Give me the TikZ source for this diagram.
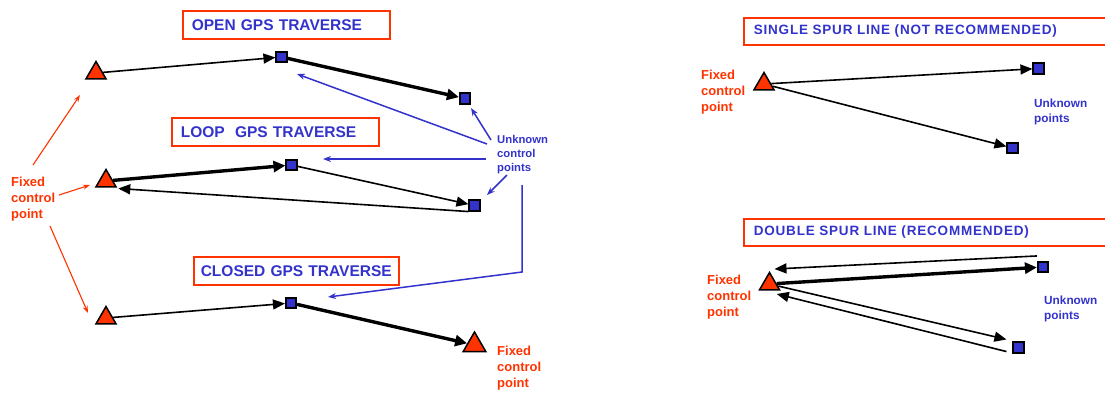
\documentclass[tikz,border=0pt]{standalone}
\usepackage{fontspec}
\setmainfont{Liberation Sans}
\usetikzlibrary{shapes.geometric,arrows.meta}

\definecolor{gpsred}{RGB}{255,51,0}
\definecolor{gpsblue}{RGB}{51,51,204}

\tikzset{
  fixpt/.style={regular polygon, regular polygon sides=3, fill=gpsred, draw=black,
    line width=1.5pt, minimum size=23pt, inner sep=0pt},
  newpt/.style={rectangle, fill=gpsblue, draw=black, line width=1.6pt,
    minimum size=10.5pt, inner sep=0pt},
  titlebox/.style={draw=gpsred, line width=1.6pt, text=gpsblue,
    font=\fontsize{15.5}{18}\selectfont\bfseries, anchor=north west, align=left,
    inner xsep=9pt, inner ysep=0pt, minimum height=28pt},
  spurbox/.style={titlebox, font=\fontsize{13.5}{16}\selectfont\bfseries\addfontfeatures{LetterSpace=6},
    inner xsep=10pt, minimum height=27pt, text width=360pt},
  leg/.style={line width=1.6pt, -{Triangle[length=12pt,width=10pt]}},
  legthick/.style={line width=3.4pt, -{Triangle[length=12pt,width=11pt]}},
  bluearr/.style={draw=gpsblue, line width=1.5pt, -{Stealth[length=8pt,width=6pt]}},
  redarr/.style={draw=gpsred, line width=1.1pt, -{Stealth[length=7pt,width=5pt]}},
  redlbl/.style={text=gpsred, font=\fontsize{13}{16}\selectfont\bfseries, align=left,
    anchor=north west, inner sep=0pt},
  bluelbl/.style={text=gpsblue, font=\fontsize{11.3}{14}\selectfont\bfseries, align=left,
    anchor=north west, inner sep=0pt},
}

\begin{document}
\begin{tikzpicture}[x=1pt,y=-1pt]
  \useasboundingbox (0,0) rectangle (1105,392);

  % open traverse
  \node[titlebox, text width=189pt] (opent) at (182,10) {OPEN GPS TRAVERSE};
  \node[fixpt] (oa) at (96,73) {};
  \node[newpt] (ob) at (281.5,57) {};
  \node[newpt] (oc) at (465,98.5) {};
  \draw[leg] (oa) -- (ob);
  \draw[legthick] (ob) -- (oc);

  % loop traverse
  \node[titlebox, text width=189pt] (loopt) at (171,117) {LOOP\ \ GPS TRAVERSE};
  \node[fixpt] (la) at (106,181) {};
  \node[newpt] (lb) at (291.5,165) {};
  \node[newpt] (lc) at (474.5,205.5) {};
  \draw[legthick] (la) -- (lb);
  \draw[leg] (lb) -- (lc);
  \draw[leg] (lc.south west) -- ([shift={(1,1)}]la.corner 3);

  % closed traverse
  \node[titlebox, inner xsep=7pt, text width=191pt] (closedt) at (193,256) {CLOSED GPS TRAVERSE};
  \node[fixpt] (ca) at (106,318) {};
  \node[newpt] (cb) at (291,303) {};
  \node[fixpt, minimum size=26pt] (cc) at (474.5,345) {};
  \draw[leg] (ca) -- (cb);
  \draw[legthick] (cb) -- (cc);

  % labels, left part
  \node[redlbl] (fixl) at (11,177) {Fixed\\control\\point};
  \node[redlbl] (fixc) at (497,346) {Fixed\\control\\point};
  \node[bluelbl] (unk) at (497,135) {Unknown\\control\\points};

  \draw[redarr] ([shift={(22,-12)}]fixl.north west) -- ([shift={(-16,22)}]oa.center);
  \draw[redarr] ([shift={(48,18)}]fixl.north west) -- ([shift={(-16,4)}]la.center);
  \draw[redarr] ([shift={(39,49)}]fixl.north west) -- ([shift={(-18,-5)}]ca.center);

  \draw[bluearr] ([shift={(-10,9)}]unk.north west) -- ([shift={(15.5,17)}]ob.center);
  \draw[bluearr] ([shift={(-6,5)}]unk.north west) -- ([shift={(6,9.5)}]oc.center);
  \draw[bluearr] ([shift={(-11,24)}]unk.north west) -- ([shift={(31.5,-6)}]lb.center);
  \draw[bluearr] ([shift={(10,40)}]unk.north west) -- ([shift={(12.5,-10.5)}]lc.center);
  \draw[bluearr] ([shift={(25,50)}]unk.north west) -- ++(0,87) -- ([shift={(37,-6)}]cb.center);

  % single spur line
  \node[spurbox] (singlet) at (743,17) {SINGLE SPUR LINE (NOT RECOMMENDED)};
  \node[fixpt] (sa) at (764,84) {};
  \node[newpt] (sb) at (1038.5,68.5) {};
  \node[newpt] (sc) at (1012.5,148) {};
  \draw[leg] (sa) -- (sb);
  \draw[leg] (sa) -- (sc);
  \node[redlbl] (fixs) at (701,70) {Fixed\\control\\point};
  \node[bluelbl, font=\fontsize{11.8}{15}\selectfont\bfseries] (unks) at (1034,99) {Unknown\\points};

  % double spur line
  \node[spurbox] (doublet) at (743,218) {DOUBLE SPUR LINE (RECOMMENDED)};
  \node[fixpt] (da) at (769.5,284) {};
  \node[newpt] (db) at (1043,267) {};
  \node[newpt] (dc) at (1018.5,347.5) {};
  \draw[legthick] (da) -- (db);
  \draw[leg] ([shift={(0,-5)}]db.north west) -- ([shift={(5,-2)}]da.corner 1);
  \draw[leg] (da) -- ([shift={(-6,-2)}]dc.north west);
  \draw[leg] ([shift={(-6,-2)}]dc.south west) -- ([shift={(-4,3.5)}]da.corner 3);
  \node[redlbl] (fixd) at (707,275) {Fixed\\control\\point};
  \node[bluelbl, font=\fontsize{11.8}{15}\selectfont\bfseries] (unkd) at (1044,296) {Unknown\\points};
\end{tikzpicture}
\end{document}
